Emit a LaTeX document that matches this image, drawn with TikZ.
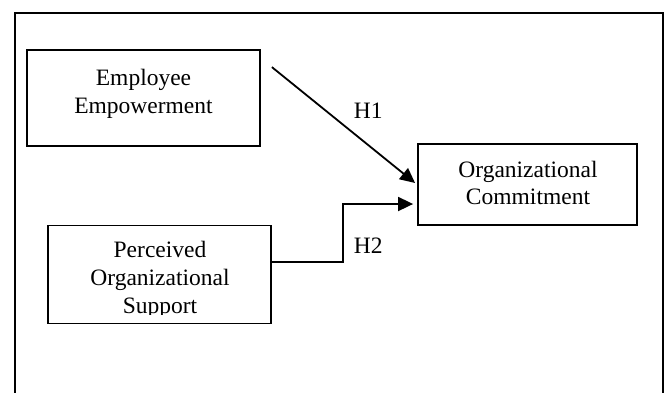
\documentclass[tikz,border=0pt]{standalone}
\usepackage{fontspec}
\setmainfont{Liberation Serif}
\usetikzlibrary{arrows.meta,calc}
\begin{document}
\begin{tikzpicture}[x=1pt,y=-1pt,
  line width=1.8pt,
  boxshape/.style={draw, line width=1.8pt, inner sep=0pt, minimum width=#1},
  txt/.style={inner sep=0pt, align=center, font=\fontsize{23.5}{27.7}\selectfont},
  lbl/.style={inner sep=0pt, anchor=base west, font=\fontsize{23.5}{27.7}\selectfont},
  conn/.style={line width=1.8pt, -{Triangle[length=15pt,width=14pt]}}]
\useasboundingbox (0,0) rectangle (667,392);
% outer frame (open at bottom)
\coordinate (fbl) at (15,395);
\coordinate (ftl) at (15,12.7);
\coordinate (ftr) at (662.7,12.7);
\coordinate (fbr) at (662.7,395);
\draw[line width=1.8pt] (fbl) -- (ftl) -- (ftr) -- (fbr);
% texts
\node[txt] (eet) at (143.5,93.7) {Employee\\Empowerment};
\node[txt] (oct) at (528,182.9) {Organizational\\Commitment};
\node[txt] (post) at (160,279.7) {Perceived\\Organizational\\Support};
% mask the cut-off bottom of the last text line
\fill[white] (50,314.5) rectangle (269,323);
% boxes
\node[boxshape=233pt, minimum height=96pt] (ee) at (143.5,98) {};
\node[boxshape=219pt, minimum height=81pt] (oc) at (527.5,184.5) {};
\node[boxshape=223pt, minimum height=98pt] (pos) at (159.5,274.5) {};
% connectors
\coordinate (h1s) at ($(ee.north east)+(11,18)$);
\coordinate (h1e) at ($(oc.west)+(-2,-1.5)$);
\draw[conn] (h1s) -- (h1e);
\coordinate (h2s) at ($(pos.east)+(0,-12.5)$);
\coordinate (h2c) at (343,262);
\coordinate (h2e) at ($(oc.west)+(-4,19.5)$);
\draw[conn] (h2s) -- (h2c) |- (h2e);
% labels
\node[lbl] (h1) at (353,118.3) {H1};
\node[lbl] (h2) at (353,253.3) {H2};
\end{tikzpicture}
\end{document}
